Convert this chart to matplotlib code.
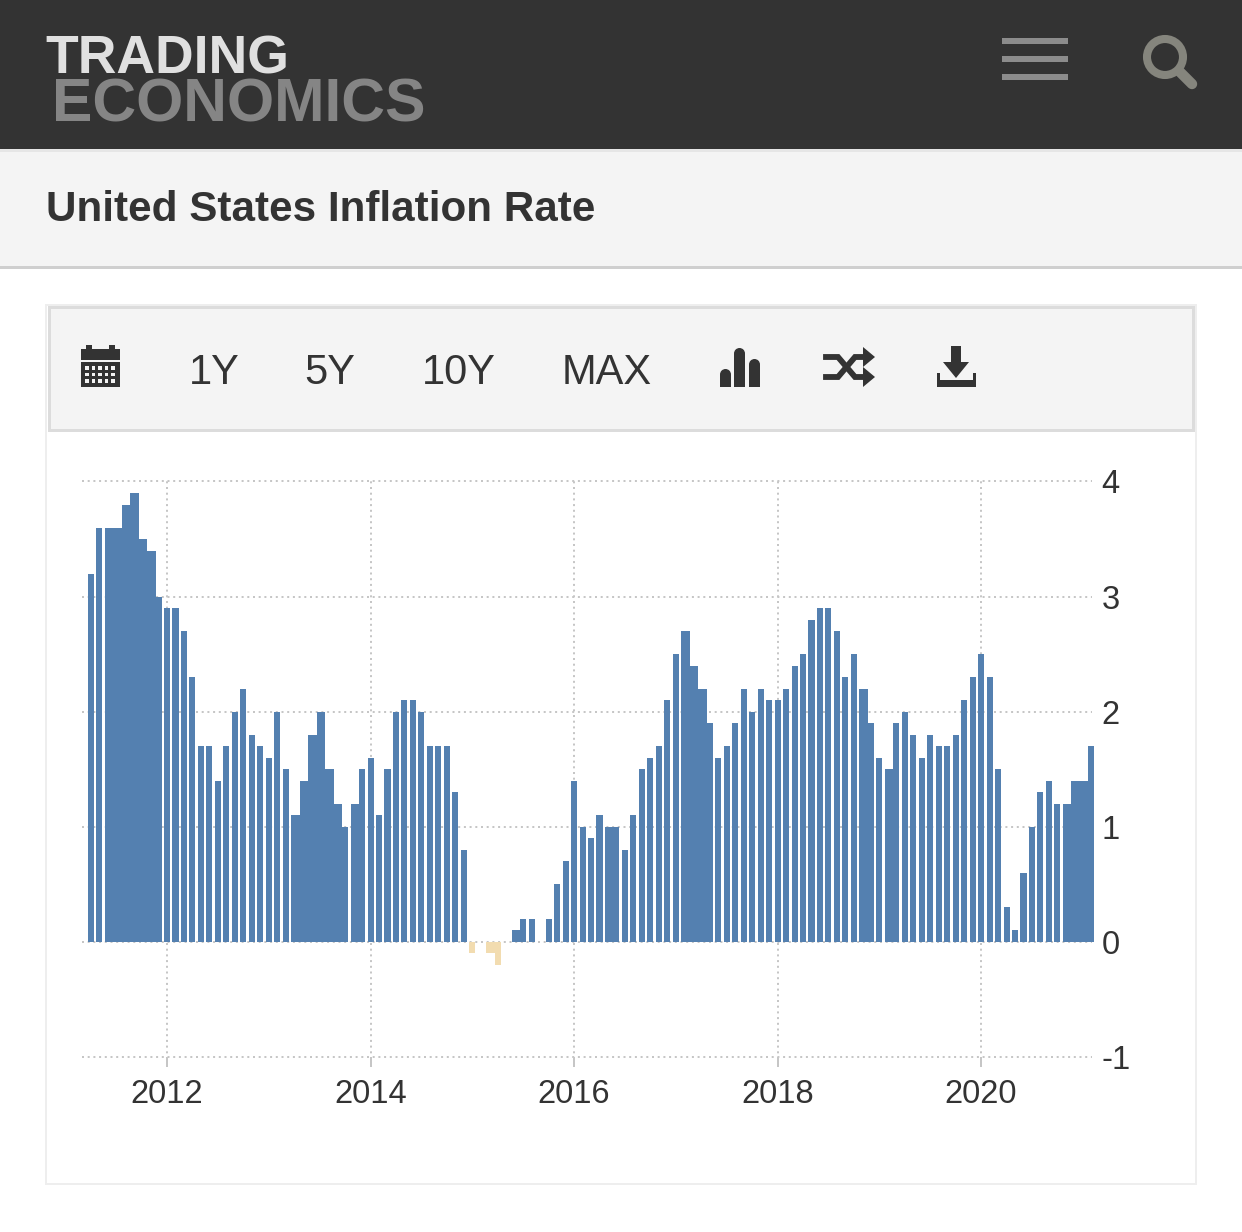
import matplotlib
matplotlib.use("Agg")
import matplotlib.pyplot as plt
from matplotlib.patches import Rectangle, Circle, Polygon
import pandas as pd

# monthly US inflation (Apr 2011 - Feb 2021)
inflation = [
    3.2, 3.6, 3.6, 3.6, 3.8, 3.9, 3.5, 3.4, 3.0,
    2.9, 2.9, 2.7, 2.3, 1.7, 1.7, 1.4, 1.7, 2.0, 2.2, 1.8, 1.7,
    1.6, 2.0, 1.5, 1.1, 1.4, 1.8, 2.0, 1.5, 1.2, 1.0, 1.2, 1.5,
    1.6, 1.1, 1.5, 2.0, 2.1, 2.1, 2.0, 1.7, 1.7, 1.7, 1.3, 0.8,
    -0.1, 0.0, -0.1, -0.2, 0.0, 0.1, 0.2, 0.2, 0.0, 0.2, 0.5, 0.7,
    1.4, 1.0, 0.9, 1.1, 1.0, 1.0, 0.8, 1.1, 1.5, 1.6, 1.7, 2.1,
    2.5, 2.7, 2.4, 2.2, 1.9, 1.6, 1.7, 1.9, 2.2, 2.0, 2.2, 2.1,
    2.1, 2.2, 2.4, 2.5, 2.8, 2.9, 2.9, 2.7, 2.3, 2.5, 2.2, 1.9,
    1.6, 1.5, 1.9, 2.0, 1.8, 1.6, 1.8, 1.7, 1.7, 1.8, 2.1, 2.3,
    2.5, 2.3, 1.5, 0.3, 0.1, 0.6, 1.0, 1.3, 1.4, 1.2, 1.2, 1.4,
    1.4, 1.7,
]
start_month = "2011-04-01"
year_ticks = ["2012", "2014", "2016", "2018", "2020"]
y_ticks = [-1, 0, 1, 2, 3, 4]
# bars that touch their neighbour in the picture
merged_runs = [("2011-06", "2011-12"), ("2013-04", "2013-10"), ("2013-11", "2013-12"),
               ("2015-03", "2015-04"), ("2015-06", "2015-07"), ("2016-05", "2016-06"),
               ("2017-02", "2017-05"), ("2018-11", "2018-12"), ("2019-02", "2019-03"),
               ("2020-11", "2021-02")]
range_buttons = ["1Y", "5Y", "10Y", "MAX"]

W, H = 1242, 1232
DARK = "#333333"
BLUE = "#5480B0"
SAND = "#F2DCB0"
GRID = "#C6C6C6"
SANS = ["Liberation Sans", "DejaVu Sans"]

fig = plt.figure(figsize=(W / 100, H / 100), dpi=100, facecolor="white")

# ── page furniture, in pixel coordinates ──────────────────────────────────────
bg = fig.add_axes([0, 0, 1, 1], zorder=0)
bg.set_xlim(0, W)
bg.set_ylim(H, 0)
bg.axis("off")


def box(x0, y0, x1, y1, color, **kw):
    bg.add_patch(Rectangle((x0, y0), x1 - x0, y1 - y0, facecolor=color, edgecolor="none", **kw))


box(0, 0, W, 149, DARK)
box(0, 149, W, 152, "#E6E6E6")
box(0, 152, W, 266, "#F4F4F4")
box(0, 266, W, 269, "#CFCFCF")
box(45, 304, 1197, 1185, "#EEEEEE")
box(47, 306, 1195, 1183, "white")
box(48, 306, 1195, 432, "#DCDCDC")
box(51, 309, 1192, 429, "#F4F4F4")

bg.text(45, 74, "TRADING", family=SANS, fontweight="bold", fontsize=38.5, color="#E0E0E0", va="baseline")
bg.text(52, 122, "ECONOMICS", family=SANS, fontweight="bold", fontsize=43.7, color="#858585", va="baseline")
bg.text(46, 221, "United States Inflation Rate", family=SANS, fontweight="bold", fontsize=30.4,
        color=DARK, va="baseline")

# hamburger + search
for y in (38, 56, 74):
    box(1002, y, 1068, y + 6, "#8C8C8C")
bg.add_patch(Circle((1165, 57), 18, facecolor="none", edgecolor="#85857D", linewidth=5.8))
bg.plot([1179, 1192], [71, 84], color="#85857D", linewidth=7.5, solid_capstyle="round")

# toolbar buttons
for label, x in zip(range_buttons, [214, 330, 459, 607]):
    bg.text(x, 384, label, family=SANS, fontsize=30, color=DARK, ha="center", va="baseline")

# calendar icon
box(81, 349, 120, 360, DARK)
box(86, 345, 92, 352, DARK)
box(109, 345, 115, 352, DARK)
box(81, 362, 120, 387, DARK)
for row in range(3):
    for col in range(5):
        box(85 + col * 6.6, 366 + row * 6.6, 88.5 + col * 6.6, 369.5 + row * 6.6, "#F4F4F4")

# bar chart icon
for x0, top in ((720, 369), (734, 348), (749, 359)):
    box(x0, top + 5.5, x0 + 11, 387, DARK)
    bg.add_patch(Circle((x0 + 5.5, top + 5.5), 5.5, facecolor=DARK, edgecolor="none"))

# shuffle icon
bg.plot([826, 838, 855, 864], [357, 357, 377, 377], color=DARK, linewidth=4.2, solid_joinstyle="miter")
bg.plot([826, 838, 855, 864], [377, 377, 357, 357], color=DARK, linewidth=4.2, solid_joinstyle="miter")
bg.add_patch(Polygon([(863, 347), (875, 357), (863, 367)], facecolor=DARK))
bg.add_patch(Polygon([(863, 367), (875, 377), (863, 387)], facecolor=DARK))

# download icon
bg.add_patch(Polygon([(951, 346), (961, 346), (961, 362), (969, 362), (956, 378),
                      (943, 362), (951, 362)], facecolor=DARK))
box(937, 380, 976, 387, DARK)
box(937, 373, 940, 387, DARK)
box(973, 373, 976, 387, DARK)

# ── chart ─────────────────────────────────────────────────────────────────────
PX_LEFT, PX_RIGHT = 82, 1092
PX_PER_MONTH = 8.48
PX_FIRST_BAR = 90.7
PX_Y4, PX_Y_NEG1 = 481.5, 1057
Y_MARGIN = 0.02  # keeps the outermost grid lines from being clipped
px_per_unit = (PX_Y_NEG1 - PX_Y4) / 5
px_top = PX_Y4 - Y_MARGIN * px_per_unit
px_bottom = PX_Y_NEG1 + Y_MARGIN * px_per_unit

ax = fig.add_axes([PX_LEFT / W, 1 - px_bottom / H, (PX_RIGHT - PX_LEFT) / W, (px_bottom - px_top) / H],
                  zorder=1)
ax.patch.set_alpha(0)

months = pd.date_range(start_month, periods=len(inflation), freq="MS").strftime("%Y-%m").tolist()
positions = list(range(len(months)))

widths = [0.71] * len(months)
for first, last in merged_runs:
    for i in range(months.index(first), months.index(last)):
        widths[i] = 1.0

colors = [BLUE if v >= 0 else SAND for v in inflation]
bars = ax.bar([p - 0.355 for p in positions], inflation, width=widths, align="edge", color=colors,
              linewidth=0, zorder=3)
for b in bars:
    b.set_clip_on(False)

ax.set_xlim((PX_LEFT - PX_FIRST_BAR) / PX_PER_MONTH, (PX_RIGHT - PX_FIRST_BAR) / PX_PER_MONTH)
ax.set_ylim(-1 - Y_MARGIN, 4 + Y_MARGIN)

ax.set_xticks([months.index(y + "-01") for y in year_ticks])
ax.set_xticklabels(year_ticks, family=SANS, fontsize=23.5, color=DARK)
ax.set_yticks(y_ticks)
ax.set_yticklabels([str(v) for v in y_ticks], family=SANS, fontsize=23.5, color=DARK)
ax.yaxis.tick_right()
ax.tick_params(axis="y", length=0, pad=7)
ax.tick_params(axis="x", length=6, width=1.44, color=GRID, pad=8)
ax.grid(True, color=GRID, linewidth=1.44, linestyle=(0, (1, 1.85)), zorder=1)
ax.set_axisbelow(True)
for s in ax.spines.values():
    s.set_visible(False)

fig.savefig("out.png", dpi=100)
